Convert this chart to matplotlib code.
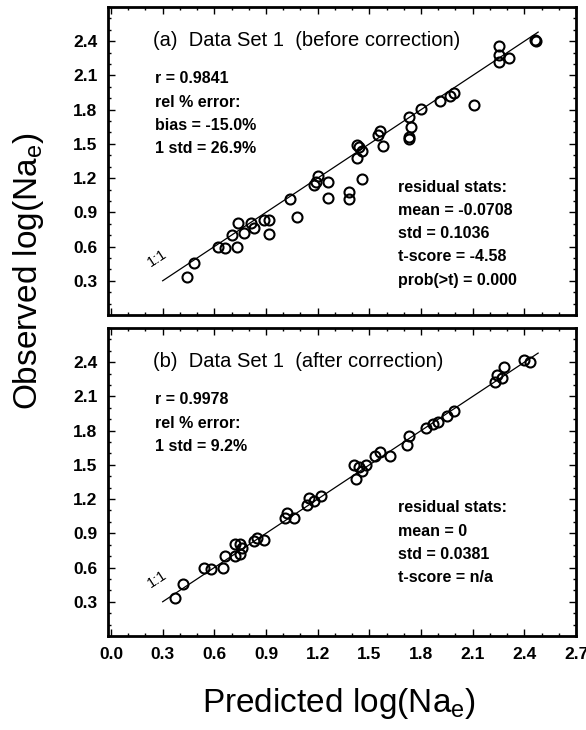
import matplotlib
matplotlib.use("Agg")
import matplotlib.pyplot as plt
from matplotlib.ticker import MultipleLocator, FixedLocator

plt.rcParams['font.family'] = ['Liberation Sans', 'DejaVu Sans']
plt.rcParams['mathtext.default'] = 'regular'

# panel (a): before correction
pred_a = [0.44, 0.48, 0.62, 0.66, 0.73, 0.70, 0.74, 0.77, 0.81, 0.83, 0.89, 0.92, 0.92,
          1.04, 1.08, 1.18, 1.19, 1.20, 1.26, 1.26, 1.38, 1.38, 1.43, 1.43, 1.44, 1.46, 1.46,
          1.55, 1.56, 1.58, 1.73, 1.74, 1.73, 1.73, 1.80, 1.91, 1.97, 1.99, 2.11,
          2.25, 2.25, 2.25, 2.31, 2.46, 2.47]
obs_a = [0.33, 0.46, 0.60, 0.59, 0.60, 0.70, 0.81, 0.72, 0.81, 0.76, 0.83, 0.83, 0.71,
         1.02, 0.86, 1.14, 1.17, 1.22, 1.17, 1.03, 1.08, 1.02, 1.49, 1.38, 1.47, 1.44, 1.19,
         1.58, 1.61, 1.48, 1.74, 1.65, 1.56, 1.54, 1.81, 1.88, 1.92, 1.95, 1.84,
         2.36, 2.28, 2.22, 2.25, 2.41, 2.40]

# panel (b): after correction
pred_b = [0.37, 0.42, 0.54, 0.58, 0.65, 0.66, 0.72, 0.72, 0.75, 0.75, 0.76, 0.83, 0.85, 0.89,
          1.01, 1.02, 1.06, 1.14, 1.15, 1.18, 1.22, 1.41, 1.42, 1.44, 1.46, 1.48, 1.53, 1.56,
          1.62, 1.72, 1.73, 1.83, 1.87, 1.90, 1.95, 1.99, 2.23, 2.24, 2.27, 2.28, 2.40, 2.43]
obs_b = [0.33, 0.46, 0.60, 0.59, 0.60, 0.70, 0.70, 0.81, 0.81, 0.72, 0.77, 0.83, 0.86, 0.84,
         1.03, 1.08, 1.03, 1.15, 1.21, 1.18, 1.23, 1.50, 1.38, 1.48, 1.45, 1.50, 1.58, 1.61,
         1.58, 1.67, 1.75, 1.82, 1.86, 1.88, 1.93, 1.97, 2.23, 2.29, 2.26, 2.36, 2.42, 2.40]

title_a = "(a)  Data Set 1  (before correction)"
title_b = "(b)  Data Set 1  (after correction)"
stats_left_a = ["r = 0.9841", "rel % error:", "bias = -15.0%", "1 std = 26.9%"]
stats_right_a = ["residual stats:", "mean = -0.0708", "std = 0.1036", "t-score = -4.58", "prob(>t) = 0.000"]
stats_left_b = ["r = 0.9978", "rel % error:", "1 std = 9.2%"]
stats_right_b = ["residual stats:", "mean = 0", "std = 0.0381", "t-score = n/a"]

line_11 = [0.30, 2.48]
xticks = [0.0, 0.3, 0.6, 0.9, 1.2, 1.5, 1.8, 2.1, 2.4, 2.7]
yticks = [0.3, 0.6, 0.9, 1.2, 1.5, 1.8, 2.1, 2.4]

fig = plt.figure(figsize=(5.86, 7.30), dpi=100)
ax_a = fig.add_axes([0.185, 0.5685, 0.798, 0.4219])
ax_b = fig.add_axes([0.185, 0.1288, 0.798, 0.4219])


def setup(ax, show_x):
    ax.set_xlim(-0.015, 2.70)
    ax.set_ylim(0.0, 2.70)
    ax.xaxis.set_major_locator(FixedLocator(xticks))
    ax.yaxis.set_major_locator(FixedLocator(yticks))
    ax.xaxis.set_minor_locator(MultipleLocator(0.1))
    ax.yaxis.set_minor_locator(MultipleLocator(0.1))
    ax.tick_params(which='both', direction='in', top=True, right=True, width=1.0)
    ax.tick_params(which='major', length=5, labelsize=12.5, pad=8)
    ax.tick_params(which='minor', length=2.5)
    if show_x:
        ax.set_xticklabels([f"{v:.1f}" for v in xticks], fontweight='bold')
    else:
        ax.set_xticklabels([])
    ax.set_yticklabels([f"{v:.1f}" for v in yticks], fontweight='bold')
    for sp in ax.spines.values():
        sp.set_linewidth(2.0)


def panel(ax, px, py, title, left, right, show_x):
    setup(ax, show_x)
    ax.plot(line_11, line_11, color='black', lw=0.9)
    ax.plot(px, py, linestyle='none', marker='o', markersize=7.2,
            markerfacecolor='none', markeredgecolor='black', markeredgewidth=1.5)
    ax.text(0.245, 2.41, title, fontsize=14.5, va='center', ha='left')
    for i, s in enumerate(left):
        ax.text(0.255, 2.07 - 0.204 * i, s, fontsize=11.5, fontweight='bold', va='center')
    for i, s in enumerate(right):
        ax.text(1.665, 1.122 - 0.204 * i, s, fontsize=11.5, fontweight='bold', va='center')
    ax.text(0.27, 0.50, "1:1", fontsize=10.5, rotation=33, ha='center', va='center')


panel(ax_a, pred_a, obs_a, title_a, stats_left_a, stats_right_a, False)
panel(ax_b, pred_b, obs_b, title_b, stats_left_b, stats_right_b, True)

fig.text(0.048, 0.628, "Observed log(Na$_e$)", fontsize=24, rotation=90, ha='center', va='center')
fig.text(0.578, 0.036, "Predicted log(Na$_e$)", fontsize=24, ha='center', va='center')

fig.savefig("out.png", dpi=100)
